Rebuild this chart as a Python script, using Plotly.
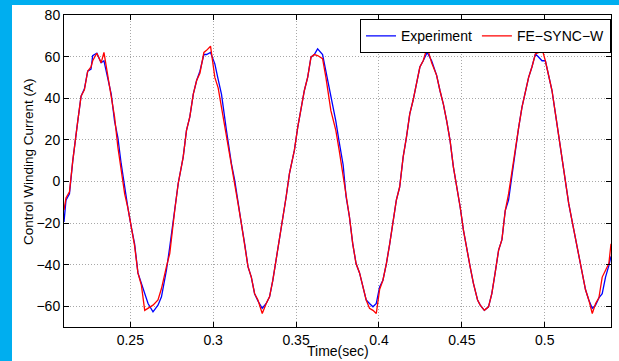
import plotly.graph_objects as go

# Time samples (s)
time_s = [
    0.2100, 0.2112, 0.2133, 0.2153, 0.2183, 0.2203, 0.2223, 0.2243, 0.2263, 0.2273,
    0.2298, 0.2324, 0.2341, 0.2365, 0.2385, 0.2405, 0.2425, 0.2445, 0.2466, 0.2486,
    0.2506, 0.2526, 0.2546, 0.2567, 0.2587, 0.2607, 0.2637, 0.2667, 0.2688, 0.2718,
    0.2738, 0.2768, 0.2789, 0.2819, 0.2839, 0.2859, 0.2880, 0.2900, 0.2920, 0.2944,
    0.2960, 0.2984, 0.3010, 0.3030, 0.3050, 0.3080, 0.3110, 0.3130, 0.3150, 0.3170,
    0.3190, 0.3210, 0.3230, 0.3250, 0.3270, 0.3296, 0.3320, 0.3340, 0.3360, 0.3390,
    0.3410, 0.3440, 0.3460, 0.3490, 0.3510, 0.3530, 0.3550, 0.3570, 0.3590, 0.3610,
    0.3630, 0.3660, 0.3680, 0.3710, 0.3740, 0.3760, 0.3784, 0.3802, 0.3822, 0.3842,
    0.3862, 0.3883, 0.3903, 0.3923, 0.3943, 0.3964, 0.3984, 0.4004, 0.4024, 0.4045,
    0.4065, 0.4085, 0.4105, 0.4125, 0.4146, 0.4166, 0.4186, 0.4206, 0.4227, 0.4247,
    0.4267, 0.4291, 0.4318, 0.4348, 0.4368, 0.4389, 0.4409, 0.4429, 0.4449, 0.4470,
    0.4490, 0.4510, 0.4530, 0.4550, 0.4570, 0.4595, 0.4611, 0.4636, 0.4661, 0.4681,
    0.4701, 0.4722, 0.4742, 0.4762, 0.4782, 0.4802, 0.4822, 0.4843, 0.4863, 0.4883,
    0.4903, 0.4923, 0.4944, 0.4964, 0.4984, 0.5004, 0.5024, 0.5044, 0.5065, 0.5085,
    0.5105, 0.5125, 0.5145, 0.5165, 0.5186, 0.5206, 0.5226, 0.5246, 0.5266, 0.5287,
    0.5307, 0.5327, 0.5347, 0.5367, 0.5387, 0.5400,
]

# Measured control winding current (A)
experiment_a = [
    -19.5, -9.0, -6.0, 10.0, 29.0, 41.0, 44.5, 53.0, 54.0, 60.5,
    61.6, 57.0, 58.0, 50.0, 42.0, 29.0, 21.0, 8.5, -3.0, -13.0,
    -22.0, -30.0, -44.0, -49.0, -54.7, -58.7, -62.7, -59.5, -55.5, -42.7,
    -31.5, -14.0, -1.0, 11.7, 24.5, 31.0, 42.0, 48.5, 53.0, 61.0,
    61.0, 62.0, 56.5, 49.0, 42.0, 24.5, 8.5, 0.5, -10.7, -20.3,
    -30.0, -41.0, -46.0, -54.0, -57.5, -61.0, -58.7, -55.5, -47.5, -33.0,
    -23.5, -7.5, 3.7, 15.0, 26.0, 35.7, 43.7, 50.0, 59.7, 61.0,
    63.7, 61.0, 53.0, 40.5, 29.0, 19.0, 8.0, -7.5, -17.0, -30.0,
    -39.5, -44.0, -50.7, -57.0, -58.7, -60.3, -58.7, -50.7, -47.5, -39.5,
    -30.0, -20.3, -9.0, -2.7, 11.7, 21.3, 32.5, 39.0, 47.0, 55.0,
    58.0, 62.0, 58.0, 51.0, 43.7, 37.0, 29.0, 19.7, 7.0, -2.7,
    -12.3, -23.5, -33.0, -41.0, -49.0, -57.0, -59.5, -62.0, -60.3, -54.0,
    -44.0, -33.0, -28.0, -14.0, -9.0, 3.0, 15.0, 26.0, 35.7, 43.7,
    50.0, 55.0, 61.3, 59.7, 58.0, 58.0, 50.0, 43.7, 32.5, 21.3,
    11.7, 0.5, -10.7, -19.0, -28.0, -36.0, -44.0, -52.0, -57.0, -61.0,
    -59.5, -56.0, -54.0, -46.0, -40.5, -36.0,
]

# Simulated control winding current, FE-SYNC-W (A)
fe_sync_w_a = [
    -13.8, -8.0, -5.0, 10.0, 29.0, 41.0, 44.0, 53.0, 55.0, 58.0,
    61.6, 57.0, 62.0, 50.0, 41.0, 31.0, 16.5, 5.0, -6.0, -13.0,
    -22.0, -31.0, -44.0, -50.0, -62.0, -61.0, -59.5, -57.0, -51.5, -41.0,
    -34.7, -14.0, -1.0, 11.7, 24.5, 31.0, 42.0, 48.5, 52.0, 62.0,
    63.0, 65.0, 50.0, 45.0, 35.7, 23.0, 8.5, 0.5, -10.7, -20.3,
    -30.0, -41.0, -46.0, -54.0, -57.0, -63.5, -58.7, -55.5, -47.5, -33.0,
    -23.5, -7.5, 3.7, 15.0, 26.0, 35.7, 43.7, 50.0, 59.7, 61.0,
    60.5, 59.0, 50.0, 34.0, 24.5, 15.0, 3.0, -7.5, -17.0, -30.0,
    -39.5, -44.0, -50.7, -57.0, -61.0, -62.0, -63.5, -52.0, -47.5, -39.5,
    -30.0, -20.3, -9.0, -2.7, 11.7, 21.3, 32.5, 39.0, 47.0, 55.0,
    58.0, 64.5, 57.0, 51.0, 43.7, 37.0, 29.0, 19.7, 7.0, -2.7,
    -12.3, -23.5, -33.0, -41.0, -49.0, -57.0, -59.5, -62.0, -60.3, -54.0,
    -44.0, -33.0, -28.0, -14.0, -6.0, 5.0, 16.5, 26.0, 35.7, 43.7,
    50.0, 55.0, 61.3, 62.0, 63.7, 58.0, 50.0, 43.7, 32.5, 21.3,
    11.7, 0.5, -10.7, -19.0, -28.0, -36.0, -44.0, -52.0, -57.0, -63.5,
    -58.7, -56.0, -46.0, -42.7, -39.5, -30.0,
]

x_tick_vals = [0.25, 0.30, 0.35, 0.40, 0.45, 0.50]
x_tick_text = ["0.25", "0.3", "0.35", "0.4", "0.45", "0.5"]
y_tick_vals = [-60, -40, -20, 0, 20, 40, 60, 80]

FONT = "Arial, Liberation Sans, Helvetica, sans-serif"

fig = go.Figure()
fig.add_trace(go.Scatter(x=time_s, y=experiment_a, mode="lines", name="Experiment",
                         line=dict(color="#0000FF", width=1.3)))
fig.add_trace(go.Scatter(x=time_s, y=fe_sync_w_a, mode="lines", name="FE\u2212SYNC\u2212W",
                         line=dict(color="#FF0000", width=1.3)))

axis_common = dict(
    showline=True, linecolor="black", linewidth=1, mirror="ticks",
    ticks="inside", ticklen=5, tickcolor="black", tickwidth=1,
    showgrid=True, gridcolor="#a8a8a8", griddash="1px,2px", gridwidth=1,
    zeroline=False, tickfont=dict(family=FONT, size=14, color="black"),
)

fig.update_xaxes(range=[0.21, 0.54], tickvals=x_tick_vals, ticktext=x_tick_text, **axis_common)
fig.update_yaxes(range=[-70, 80], tickvals=y_tick_vals, **axis_common)

fig.update_layout(
    width=619, height=361,
    margin=dict(l=64, r=8, t=15, b=34),
    paper_bgcolor="#00AEEF",
    plot_bgcolor="white",
    showlegend=True,
    legend=dict(orientation="h", x=1, xanchor="right", y=0.986, yanchor="top",
                bgcolor="white", bordercolor="black", borderwidth=1,
                font=dict(family=FONT, size=14, color="black"),
                tracegroupgap=0),
    shapes=[dict(type="rect", xref="paper", yref="paper", layer="below",
                 x0=(12 - 64) / 547, x1=1.05, y0=-0.15, y1=(327 - 5) / 312,
                 fillcolor="white", line=dict(width=0))],
    annotations=[
        dict(text="Time(sec)", xref="paper", yref="paper", x=0.5, y=(327 - 351) / 312,
             xanchor="center", yanchor="middle", showarrow=False,
             font=dict(family=FONT, size=14, color="black")),
        dict(text="Control Winding Current (A)", xref="paper", yref="paper",
             x=(28 - 64) / 547, y=(327 - 162) / 312, textangle=-90,
             xanchor="center", yanchor="middle", showarrow=False,
             font=dict(family=FONT, size=13.5, color="black")),
        dict(text="(c) Comparison of Magnetizing Current", xref="paper", yref="paper",
             x=(181 - 64) / 547, y=(327 - 1) / 312, xanchor="left", yanchor="bottom",
             showarrow=False, borderpad=0,
             font=dict(family="Liberation Serif, Times New Roman, serif", size=22, color="black")),
    ],
)

fig.write_html("out.html")
